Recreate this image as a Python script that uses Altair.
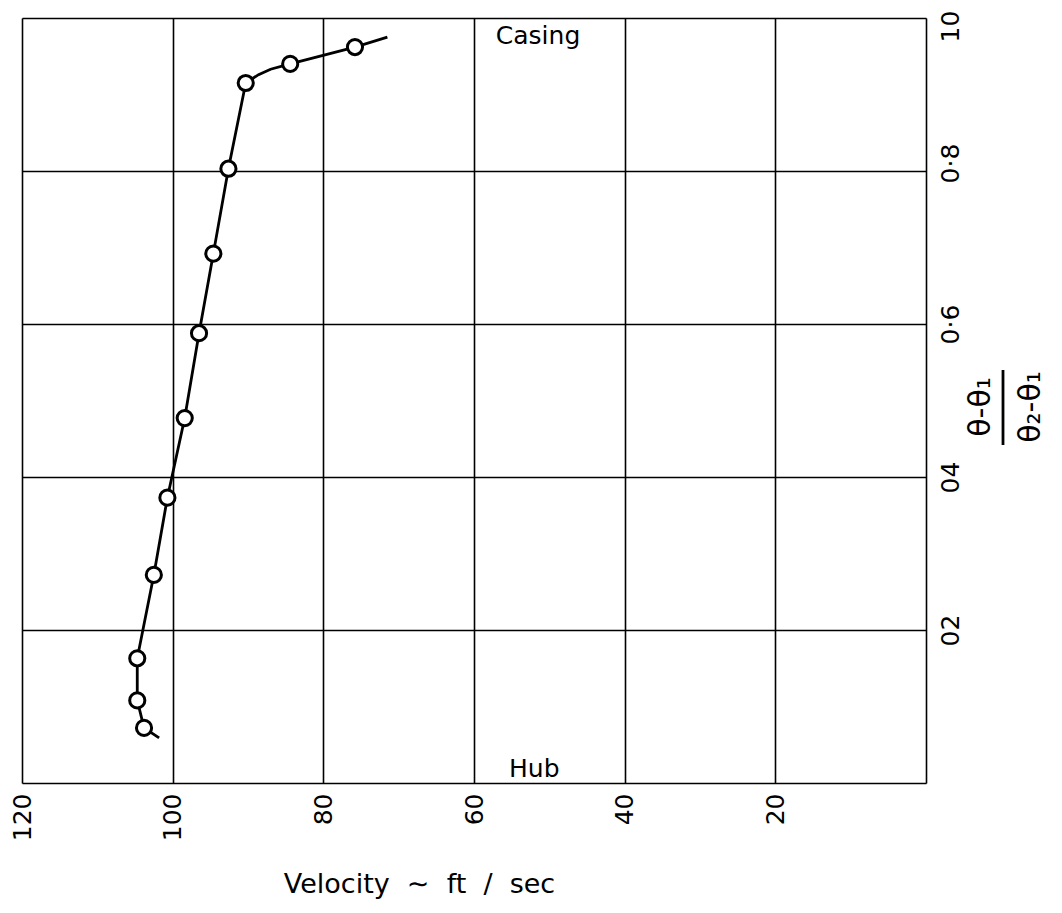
import altair as alt
import pandas as pd

# Measured points (velocity ft/sec, normalised radial position)
point_velocity = [75.8, 84.4, 90.3, 92.6, 94.6, 96.5, 98.4, 100.7, 102.5, 104.7, 104.7, 103.8]
point_position = [0.962, 0.940, 0.915, 0.803, 0.692, 0.588, 0.477, 0.373, 0.272, 0.163, 0.108, 0.072]

# Faired curve vertices (including the bend and the short extensions past the end points)
line_velocity = [71.5, 75.8, 84.4, 87.0, 88.6, 90.3, 92.6, 94.6, 96.5, 98.4, 100.7, 102.5, 104.7, 104.7, 103.8, 101.8]
line_position = [0.975, 0.962, 0.940, 0.933, 0.926, 0.915, 0.803, 0.692, 0.588, 0.477, 0.373, 0.272, 0.163, 0.108, 0.072, 0.059]

x_ticks = [120, 100, 80, 60, 40, 20]
x_grid = [120, 100, 80, 60, 40, 20, 0]
y_ticks = [0.2, 0.4, 0.6, 0.8, 1.0]
y_tick_labels = ["02", "04", "0·6", "0·8", "10"]

annotations = ["Casing", "Hub"]
annotation_velocity = [51.5, 52]
annotation_position = [0.966, 0.008]

FONT = "DejaVu Sans"
NB = "\u00a0"

points = pd.DataFrame({"v": point_velocity, "r": point_position})
line = pd.DataFrame({"v": line_velocity, "r": line_position, "order": list(range(len(line_velocity)))})
notes = pd.DataFrame({"label": annotations, "v": annotation_velocity, "r": annotation_position})

label_expr = " : ".join(
    f"abs(datum.value - {v}) < 0.001 ? '{l}'" for v, l in zip(y_ticks, y_tick_labels)
) + " : ''"

x_scale = alt.Scale(domain=[0, 120], reverse=True, nice=False, zero=True)
y_scale = alt.Scale(domain=[0, 1], nice=False)

x_title = f"Velocity{NB}{NB}∼{NB}{NB}ft{NB}{NB}/{NB}{NB}sec"

x_axis = alt.Axis(
    values=x_grid,
    labelExpr="datum.value == 0 ? '' : datum.label",
    labelAngle=270,
    labelAlign="right",
    labelBaseline="middle",
    labelPadding=10,
    labelFontSize=25,
    labelFont=FONT,
    labelColor="black",
    ticks=False,
    domain=False,
    grid=True,
    gridColor="black",
    gridWidth=1.6,
    gridOpacity=1,
    title=x_title,
    titleFont=FONT,
    titleFontSize=27,
    titleFontWeight="normal",
    titleColor="black",
    titleX=397,
    titleY=109,
    titleBaseline="alphabetic",
    titleAnchor="middle",
    titleAlign="center",
)

y_axis = alt.Axis(
    orient="right",
    values=[0.0] + y_ticks,
    labelExpr=label_expr,
    labelAngle=270,
    labelAlign="center",
    labelBaseline="top",
    labelPadding=12,
    labelOffset={"expr": "datum.value > 0.99 ? 8 : (abs(datum.value - 0.8) < 0.01 ? -8 : 0)"},
    labelFontSize=25,
    labelFont=FONT,
    labelColor="black",
    labelFlush=False,
    ticks=False,
    domain=False,
    grid=True,
    gridColor="black",
    gridWidth=1.6,
    gridOpacity=1,
    title=None,
)

base_line = alt.Chart(line).mark_line(color="black", strokeWidth=2.8).encode(
    x=alt.X("v:Q", scale=x_scale, axis=x_axis),
    y=alt.Y("r:Q", scale=y_scale, axis=y_axis),
    order="order:Q",
)

pts = alt.Chart(points).mark_point(
    shape="circle", filled=True, fill="white", stroke="black", strokeWidth=3, size=230, opacity=1
).encode(
    x=alt.X("v:Q", scale=x_scale),
    y=alt.Y("r:Q", scale=y_scale),
)

note_text = alt.Chart(notes).mark_text(
    font=FONT, fontSize=25, color="black", align="center", baseline="alphabetic"
).encode(
    x=alt.X("v:Q", scale=x_scale),
    y=alt.Y("r:Q", scale=y_scale),
    text="label:N",
)

frac_df = pd.DataFrame({"num": ["θ-θ₁"], "den": ["θ₂-θ₁"]})

numerator = alt.Chart(frac_df).mark_text(
    font=FONT, fontSize=30, color="black", angle=270, align="center", baseline="middle"
).encode(x=alt.value(959), y=alt.value(389), text="num:N")

denominator = alt.Chart(frac_df).mark_text(
    font=FONT, fontSize=30, color="black", angle=270, align="center", baseline="middle"
).encode(x=alt.value(1009), y=alt.value(389), text="den:N")

bar = alt.Chart(frac_df).mark_rule(color="black", strokeWidth=2.8).encode(
    x=alt.value(981), y=alt.value(352), y2=alt.value(427)
)

chart = alt.layer(base_line, pts, note_text, numerator, denominator, bar).properties(
    width=904,
    height=765,
    autosize=alt.AutoSizeParams(type="none"),
    padding={"left": 14, "top": 10, "right": 120, "bottom": 120},
).configure_view(
    stroke="black", strokeWidth=3
).configure(background="white")

chart.save("out.html", embed_options={"renderer": "svg", "actions": False})
